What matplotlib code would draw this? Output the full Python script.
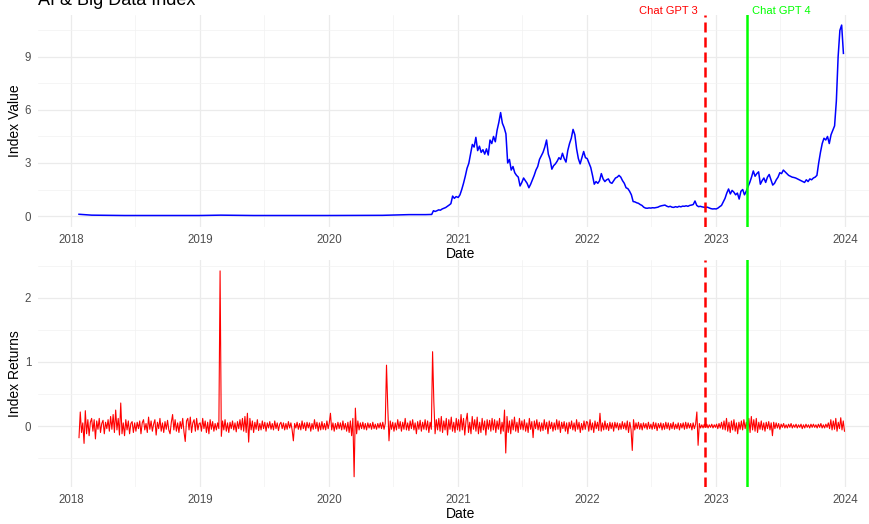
import numpy as np
import pandas as pd
import matplotlib
matplotlib.use('Agg')
import matplotlib.pyplot as plt
import matplotlib.dates as mdates

plt.rcParams['font.family'] = ['Liberation Sans', 'DejaVu Sans']

# index value
index_early_dates = ['2018-01-24', '2018-03-01', '2018-06-01', '2019-01-01', '2019-03-01',
                     '2019-06-01', '2020-01-01', '2020-06-01', '2020-08-15', '2020-10-01']
index_early = [0.10, 0.05, 0.03, 0.03, 0.05, 0.03, 0.03, 0.04, 0.08, 0.08]

# the busy part, about every 5 days
index_2020 = [0.09, 0.30, 0.26, 0.30, 0.35, 0.33, 0.40, 0.44, 0.48, 0.55, 0.62, 0.70,
              1.13, 1.00, 1.10, 1.06]
index_2021 = [1.05, 1.20, 1.50, 1.85, 2.25, 2.70, 2.98, 3.50, 4.05, 3.90, 4.45, 3.70,
              3.95, 3.60, 3.75, 3.50, 3.80, 3.45, 4.30, 4.10, 4.50, 4.20, 4.85, 5.30,
              5.85, 5.25, 5.00, 4.65, 3.00, 3.20, 2.60, 2.80, 2.45, 2.30, 2.20, 1.70,
              1.90, 2.15, 2.00, 1.85, 1.60, 1.80, 2.05, 2.30, 2.60, 2.80, 3.20, 3.40,
              3.60, 3.90, 4.30, 3.50, 3.20, 2.65, 2.85, 2.95, 3.10, 3.30, 3.20, 3.55,
              3.25, 3.05, 3.70, 4.10, 4.40, 4.90, 4.60, 3.80, 3.25, 2.95, 3.30, 3.65, 3.30]
index_2022 = [3.25, 3.00, 2.75, 2.30, 1.80, 1.95, 1.85, 2.00, 2.40, 2.10, 1.95, 2.05,
              2.10, 1.90, 1.85, 2.00, 2.15, 2.20, 2.30, 2.20, 2.00, 1.85, 1.60, 1.55,
              1.40, 1.20, 0.82, 0.80, 0.75, 0.72, 0.65, 0.60, 0.50, 0.45, 0.44, 0.46,
              0.45, 0.47, 0.46, 0.48, 0.50, 0.55, 0.58, 0.60, 0.62, 0.56, 0.52, 0.55,
              0.50, 0.49, 0.53, 0.50, 0.55, 0.52, 0.56, 0.55, 0.58, 0.55, 0.60, 0.62,
              0.65, 0.85, 0.60, 0.53, 0.55, 0.52, 0.50, 0.49, 0.50, 0.46, 0.42, 0.40, 0.41]
index_2023 = [0.40, 0.45, 0.53, 0.60, 0.80, 1.00, 1.30, 1.53, 1.25, 1.45, 1.35, 1.20,
              1.30, 0.96, 1.40, 1.50, 1.20, 1.40, 1.66, 1.90, 2.20, 2.55, 2.25, 2.40,
              2.50, 1.80, 2.00, 2.15, 1.90, 2.20, 2.35, 2.05, 1.75, 1.85, 2.05, 2.20,
              2.45, 2.40, 2.60, 2.50, 2.40, 2.30, 2.25, 2.20, 2.18, 2.15, 2.10, 2.05,
              2.00, 1.95, 1.90, 2.05, 1.95, 2.10, 2.05, 2.15, 2.20, 2.30, 3.00, 3.60,
              4.10, 4.40, 4.30, 4.50, 4.10, 4.60, 4.85, 5.10, 6.50, 9.00, 10.50, 10.80, 9.20]
index_spans = [('2020-10-18', '2020-12-31'), ('2021-01-01', '2021-12-27'),
               ('2022-01-01', '2022-12-27'), ('2023-01-01', '2023-12-27')]

# returns, about twice a week, estimated per year
returns_2018 = [-0.18, 0.22, -0.10, 0.05, -0.27, 0.24, -0.12, 0.10, -0.15, 0.06, 0.12, -0.08,
                0.10, -0.20, 0.08, -0.05, 0.12, -0.10, 0.04, 0.09, -0.12, 0.06, -0.04, 0.10,
                -0.08, 0.15, -0.05, 0.18, -0.10, 0.25, -0.06, 0.12, -0.14, 0.36, -0.12, 0.05,
                -0.15, 0.10, -0.06, 0.08, -0.12, 0.04, 0.07, -0.10, 0.05, -0.08, 0.06, -0.04,
                0.08, -0.12, 0.05, 0.10, -0.06, 0.04, -0.10, 0.14, -0.05, 0.08, -0.08, 0.03,
                0.10, -0.14, 0.06, -0.04, 0.12, -0.08, 0.05, -0.10, 0.07, -0.05, 0.09, -0.06,
                -0.12, 0.06, 0.18, -0.06, 0.10, -0.08, 0.05, -0.10, 0.07, -0.04, 0.12, -0.09,
                -0.24, 0.08, 0.12, -0.06, 0.14, -0.10, 0.05, 0.10, -0.08, 0.12, -0.06, 0.04]
returns_2019 = [0.05, -0.08, 0.12, -0.04, 0.08, -0.10, 0.06, -0.12, 0.10, -0.05, 0.07, -0.08, 0.04,
                -0.06, 0.05, -0.04, 2.42, -0.16, 0.08, -0.06, 0.10, -0.08, 0.05, -0.10, 0.06, -0.04,
                0.08, -0.06, 0.05, -0.09, 0.07, -0.04, 0.10, -0.06, 0.12, -0.08, 0.15, -0.10, 0.20,
                -0.25, 0.12, -0.06, 0.08, -0.10, 0.06, -0.05, 0.10, -0.07, 0.04, -0.06, 0.08, -0.04,
                0.06, -0.08, 0.05, -0.03, 0.07, -0.05, 0.04, -0.06, 0.08, -0.04, 0.05, -0.07, 0.03,
                0.06, -0.04, 0.05, -0.06, 0.04, -0.05, 0.07, -0.03, 0.05, -0.06, -0.23, 0.04, -0.03,
                0.06, -0.05, 0.04, -0.06, 0.08, -0.04, 0.05, -0.07, 0.06, -0.03, 0.05, -0.08, 0.04,
                -0.05, 0.10, -0.04, 0.06, -0.08, 0.05, -0.06, 0.07, -0.05, 0.04, -0.06, 0.08, -0.04]
returns_2020 = [0.04, 0.20, -0.06, 0.05, -0.08, 0.04, -0.05, 0.06, -0.04, 0.05, -0.06, 0.08, -0.05,
                0.04, -0.08, 0.06, -0.10, 0.08, -0.15, 0.12, -0.79, 0.28, -0.12, 0.08, -0.06, 0.05,
                -0.04, 0.06, -0.05, 0.04, -0.06, 0.05, -0.03, 0.04, -0.05, 0.06, -0.04, 0.03, -0.05,
                0.04, -0.03, 0.05, -0.04, 0.06, -0.05, 0.04, 0.95, 0.30, -0.23, 0.08, -0.05, 0.06,
                -0.08, 0.05, -0.06, 0.10, -0.04, 0.07, -0.08, 0.06, -0.05, 0.12, -0.06, 0.05, -0.07,
                0.08, -0.04, 0.10, -0.06, 0.05, -0.12, 0.07, -0.05, 0.09, -0.08, 0.06, -0.05, 0.10,
                -0.06, 0.08, -0.10, 0.06, -0.05, 1.16, 0.38, -0.12, 0.10, -0.06, 0.12, -0.08, 0.15,
                -0.10, 0.08, -0.06, 0.12, -0.14, 0.10, -0.05, 0.14, -0.08, 0.06, -0.10, 0.12, -0.06]
returns_2021 = [0.10, -0.08, 0.18, -0.06, 0.12, -0.14, 0.08, 0.20, -0.10, 0.06, -0.12, 0.15, -0.05,
                0.10, -0.08, 0.14, -0.12, 0.06, -0.10, 0.12, -0.06, 0.08, -0.14, 0.10, -0.05, 0.09,
                -0.08, 0.12, -0.06, 0.10, -0.10, 0.08, -0.05, 0.12, -0.12, 0.06, -0.08, 0.25, -0.42,
                0.15, -0.10, 0.08, -0.12, 0.10, -0.06, 0.14, -0.08, 0.06, -0.10, 0.12, -0.05, 0.08,
                -0.06, 0.10, -0.08, 0.05, -0.10, 0.12, -0.05, 0.07, -0.18, 0.08, -0.04, 0.10, -0.06,
                0.06, -0.08, 0.05, -0.07, 0.10, -0.05, 0.06, -0.12, 0.08, -0.04, 0.06, -0.08, 0.05,
                -0.06, 0.10, -0.05, 0.08, -0.10, 0.06, -0.04, 0.07, -0.08, 0.05, -0.12, 0.06, -0.04,
                0.08, -0.06, 0.05, -0.08, 0.10, -0.05, 0.06, -0.10, 0.04, -0.06, 0.08, -0.05, 0.07]
returns_2022 = [0.06, -0.08, 0.10, -0.06, 0.05, -0.10, 0.08, -0.04, 0.06, -0.07, 0.20, -0.08, 0.05,
                -0.06, 0.08, -0.05, 0.04, -0.07, 0.06, -0.04, 0.05, -0.08, 0.06, -0.03, 0.05, -0.06,
                0.04, -0.05, 0.07, -0.04, 0.05, -0.06, 0.08, -0.10, 0.06, -0.05, -0.38, 0.10, -0.06,
                0.05, -0.04, 0.06, -0.05, 0.04, -0.06, 0.05, -0.03, 0.04, -0.05, 0.06, -0.04, 0.03,
                -0.05, 0.06, -0.04, 0.05, -0.07, 0.04, -0.03, 0.05, -0.06, 0.04, -0.05, 0.06, -0.04,
                0.05, -0.06, 0.04, -0.04, 0.06, -0.05, 0.03, -0.04, 0.05, -0.06, 0.04, -0.03, 0.05,
                -0.05, 0.06, -0.04, 0.05, -0.03, 0.04, -0.06, 0.05, -0.04, 0.03, 0.22, -0.30, 0.04,
                -0.03, 0.02, -0.03, 0.03, -0.02, 0.03, -0.03, 0.02, -0.02, 0.03, -0.03, 0.02, -0.02]
returns_2023 = [0.03, -0.04, 0.04, -0.03, 0.06, -0.05, 0.08, -0.06, 0.12, -0.08, 0.06, -0.10, 0.08,
                -0.06, 0.10, -0.08, 0.05, -0.12, 0.06, -0.05, 0.08, -0.06, 0.10, -0.04, 0.06, -0.08,
                0.12, -0.10, 0.15, -0.06, 0.10, -0.08, 0.12, -0.10, 0.06, -0.05, 0.08, -0.06, 0.05,
                -0.08, 0.06, -0.04, 0.07, -0.06, 0.05, -0.15, 0.06, -0.04, 0.05, -0.03, 0.04, -0.05,
                0.03, -0.02, 0.04, -0.03, 0.02, -0.03, 0.03, -0.02, 0.04, -0.03, 0.02, -0.02, 0.03,
                -0.03, 0.02, -0.02, 0.03, -0.04, 0.02, -0.03, 0.03, -0.02, 0.02, -0.03, 0.03, -0.02,
                0.03, -0.02, 0.02, -0.03, 0.03, -0.02, 0.04, -0.03, 0.02, -0.03, 0.03, -0.02, 0.05,
                -0.04, 0.10, -0.06, 0.08, -0.05, 0.12, -0.08, 0.06, -0.04, 0.13, -0.06, 0.08, -0.08]
returns_spans = [('2018-01-24', '2018-12-30'), ('2019-01-02', '2019-12-30'),
                 ('2020-01-02', '2020-12-30'), ('2021-01-02', '2021-12-30'),
                 ('2022-01-02', '2022-12-30'), ('2023-01-02', '2023-12-30')]

events = ['Chat GPT 3', 'Chat GPT 4']
event_dates = ['2022-11-30', '2023-03-29']

parts = [pd.Series(index_early, index=pd.to_datetime(index_early_dates))]
for (a, b), vals in zip(index_spans, [index_2020, index_2021, index_2022, index_2023]):
    parts.append(pd.Series(vals, index=pd.date_range(a, b, periods=len(vals))))
idx = pd.concat(parts)

parts = []
for (a, b), vals in zip(returns_spans, [returns_2018, returns_2019, returns_2020,
                                        returns_2021, returns_2022, returns_2023]):
    parts.append(pd.Series(vals, index=pd.date_range(a, b, periods=len(vals))))
ret = pd.concat(parts)

fig = plt.figure(figsize=(8.7, 5.24), dpi=100)
ax1 = fig.add_axes([38 / 870, 1 - 227 / 524, 845 / 870, 212 / 524])
ax2 = fig.add_axes([38 / 870, 1 - 487 / 524, 845 / 870, 227 / 524])

xlim = (pd.Timestamp('2017-09-30'), pd.Timestamp('2024-04-17'))
ev = pd.to_datetime(event_dates)


def style(ax, major, minor, ylim):
    ax.set_xlim(xlim)
    ax.set_ylim(ylim)
    ax.xaxis.set_major_locator(mdates.YearLocator())
    ax.xaxis.set_minor_locator(mdates.MonthLocator(bymonth=7))
    ax.xaxis.set_major_formatter(mdates.DateFormatter('%Y'))
    ax.set_yticks(major)
    ax.set_yticks(minor, minor=True)
    ax.grid(which='major', color='#EBEBEB', lw=0.9)
    ax.grid(which='minor', color='#F2F2F2', lw=0.5)
    ax.set_axisbelow(True)
    for s in ax.spines.values():
        s.set_visible(False)
    ax.tick_params(which='both', length=0, labelsize=8.3, colors='#4D4D4D', pad=5)
    ax.set_xlabel('Date', fontsize=10, labelpad=1)


ax1.plot(idx.index, idx.values, color='#0000FF', lw=1.1)
ax1.axvline(ev[0], color='#FF0000', lw=1.8, dashes=(4, 2))
ax1.axvline(ev[1], color='#00FF00', lw=1.8)
style(ax1, [0, 3, 6, 9], [1.5, 4.5, 7.5, 10.5], (-0.62, 11.37))
ax1.set_ylabel('Index Value', fontsize=10, labelpad=2)
ax1.text(ev[0] - pd.Timedelta(days=20), 11.6, events[0], color='#FF0000', fontsize=8,
         ha='right', va='center', clip_on=False)
ax1.text(ev[1] + pd.Timedelta(days=15), 11.6, events[1], color='#00FF00', fontsize=8,
         ha='left', va='center', clip_on=False)

ax2.plot(ret.index, ret.values, color='#FF0000', lw=0.8)
ax2.axvline(ev[0], color='#FF0000', lw=1.8, dashes=(4, 2))
ax2.axvline(ev[1], color='#00FF00', lw=1.8)
style(ax2, [0, 1, 2], [-0.5, 0.5, 1.5, 2.5], (-0.95, 2.59))
ax2.set_ylabel('Index Returns', fontsize=10, labelpad=2)

# title sits half off the top edge, as in the source picture
fig.text(38 / 870, 1 - 5 / 524, 'AI & Big Data Index', fontsize=13, va='baseline')

fig.savefig('out.png', dpi=100)
